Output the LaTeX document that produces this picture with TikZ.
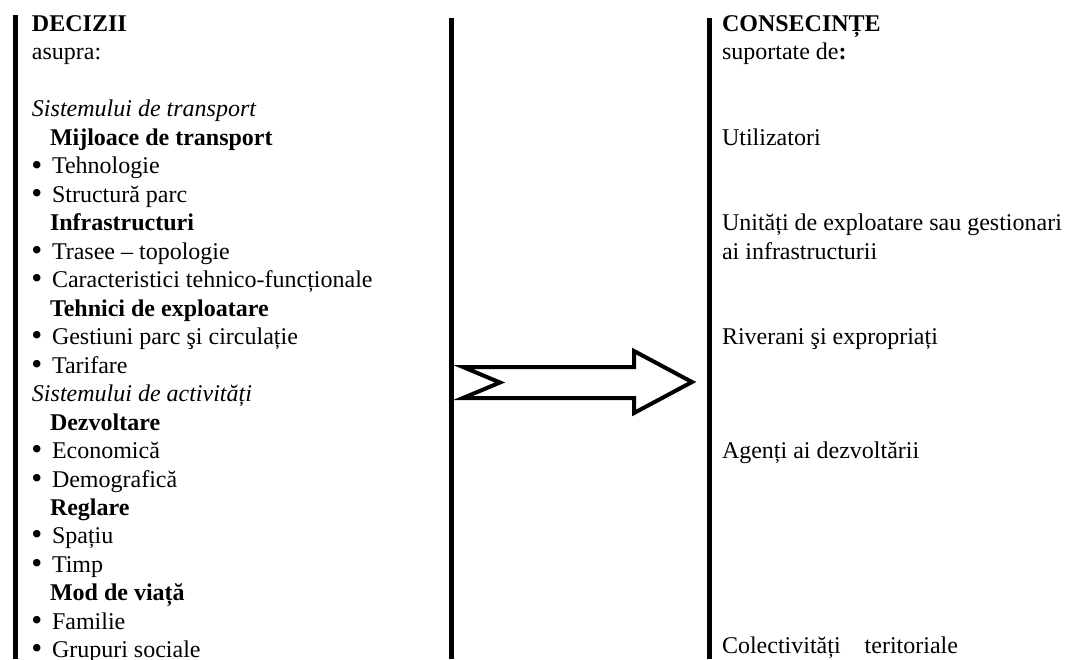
\documentclass[tikz,border=0pt]{standalone}
\usepackage{fontspec}
\setmainfont{Liberation Serif}
\newcommand{\bulletmark}{\raisebox{-0.9pt}{\scalebox{1.3}{\textbullet}}}
\begin{document}
\begin{tikzpicture}[x=0.5pt,y=-0.5pt,
  txt/.style={anchor=base west,inner sep=0pt,outer sep=0pt,font=\fontsize{12pt}{14pt}\selectfont},
  head/.style={txt,font=\fontsize{12pt}{14pt}\selectfont\bfseries},
  sys/.style={txt,font=\fontsize{12pt}{14pt}\selectfont\itshape},
  item/.style={txt,execute at begin node={\llap{\bulletmark\hspace{4.9pt}}}},
  bar/.style={line width=2.5pt,line cap=butt},
  bigarrow/.style={line width=2pt,line join=miter,fill=white}]
\useasboundingbox (0,0) rectangle (1074,659);

% column rules
\draw[bar] (15,15) -- (15,659);
\draw[bar] (451,18) -- (451,659);
\draw[bar] (709.5,18) -- (709.5,659);

% hollow arrow with notched tail
\draw[bigarrow] (463,367) -- (634,367) -- (634,351) -- (692,382) -- (634,413)
  -- (634,398) -- (463,398) -- (500,382.5) -- cycle;

% decisions column
\node[head] (dec) at (32,31) {DECIZII};
\node[txt] (asupra) at (32,59.5) {asupra:};
\node[sys] (sysT) at (32,116.5) {Sistemului de transport};
\node[head] (mij) at (50,145) {Mijloace de transport};
\node[item] (teh) at (52,173.5) {Tehnologie};
\node[item] (str) at (52,202) {Structură parc};
\node[head] (inf) at (50,230) {Infrastructuri};
\node[item] (tra) at (52,259) {Trasee – topologie};
\node[item] (car) at (52,287) {Caracteristici tehnico-funcționale};
\node[head] (tex) at (50,316) {Tehnici de exploatare};
\node[item] (ges) at (52,344) {Gestiuni parc şi circulație};
\node[item] (tar) at (52,373) {Tarifare};
\node[sys] (sysA) at (32,401) {Sistemului de activități};
\node[head] (dez) at (50,430) {Dezvoltare};
\node[item] (eco) at (52,458) {Economică};
\node[item] (dem) at (52,487) {Demografică};
\node[head] (reg) at (50,515) {Reglare};
\node[item] (spa) at (52,543) {Spațiu};
\node[item] (tim) at (52,572) {Timp};
\node[head] (mod) at (50,600) {Mod de viață};
\node[item] (fam) at (52,629) {Familie};
\node[item] (gru) at (52,657) {Grupuri sociale};

% consequences column
\node[head] (cons) at (722,31) {CONSECINȚE};
\node[txt] (sup) at (722,59.5) {suportate de\textbf{:}};
\node[txt] (uti) at (722,145) {Utilizatori};
\node[txt] (uni) at (722,230) {Unități de exploatare sau gestionari};
\node[txt] (uni2) at (722,259) {ai infrastructurii};
\node[txt] (riv) at (722,344.5) {Riverani şi expropriați};
\node[txt] (age) at (722,458.5) {Agenți ai dezvoltării};
\node[txt] (col) at (722,653) {Colectivități\hspace{12pt}teritoriale};
\end{tikzpicture}
\end{document}
